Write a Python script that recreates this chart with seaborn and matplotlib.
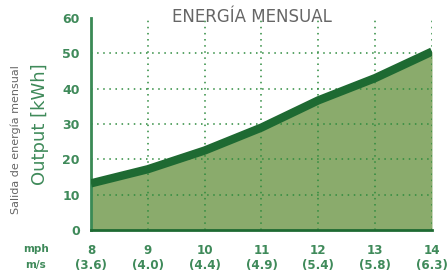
import numpy as np
import pandas as pd
import matplotlib
matplotlib.use("Agg")
import matplotlib.pyplot as plt
import seaborn as sns

# ─── Data ─────────────────────────────────────────────────────────────────────
wind_mph = [8, 9, 10, 11, 12, 13, 14]
wind_ms = ["(3.6)", "(4.0)", "(4.4)", "(4.9)", "(5.4)", "(5.8)", "(6.3)"]
output_kwh = [13.2, 17.2, 22.5, 29.0, 36.7, 43.0, 50.5]
y_ticks = [0, 10, 20, 30, 40, 50, 60]

df = pd.DataFrame({"mph": wind_mph, "kwh": output_kwh})

# ─── Styling ──────────────────────────────────────────────────────────────────
GREEN_TXT = "#3f8a5a"
LINE_GREEN = "#1e6a32"
FILL_GREEN = "#8aab6c"
GRID_GREEN = "#2e8b3e"

sns.set_theme(style="white")
plt.rcParams["font.family"] = ["DejaVu Sans"]

fig = plt.figure(figsize=(4.47, 2.76), dpi=100)
ax = fig.add_axes([0.2036, 0.1667, 0.7628, 0.768])

ax.fill_between(df["mph"], 0, df["kwh"], color=FILL_GREEN, lw=0, zorder=1)
sns.lineplot(data=df, x="mph", y="kwh", ax=ax, color=LINE_GREEN, lw=6,
             solid_capstyle="butt", zorder=3)

ax.set_xlim(8, 14)
ax.set_ylim(0, 60)
ax.set_xticks(wind_mph)
ax.set_xticklabels([f"{m}\n{s}" for m, s in zip(wind_mph, wind_ms)])
ax.set_yticks(y_ticks)
ax.tick_params(axis="both", length=0, labelcolor=GREEN_TXT, labelsize=9)
ax.tick_params(axis="x", pad=10, labelsize=8.6)
for lbl in ax.get_xticklabels() + ax.get_yticklabels():
    lbl.set_fontweight("bold")
ax.tick_params(axis="y", pad=8)

# dotted grid above the fill
for x in wind_mph[1:]:
    ax.axvline(x, color=GRID_GREEN, lw=1.1, ls=(0, (1, 3)), zorder=2)
for y in y_ticks[1:-1]:
    ax.axhline(y, color=GRID_GREEN, lw=1.1, ls=(0, (1, 3)), zorder=2)

for side in ["top", "right"]:
    ax.spines[side].set_visible(False)
ax.spines["left"].set_color("#3a8a55")
ax.spines["left"].set_linewidth(2)
ax.spines["bottom"].set_color(LINE_GREEN)
ax.spines["bottom"].set_linewidth(2)

ax.set_xlabel("")
ax.set_ylabel("Output [kWh]", color=GREEN_TXT, fontsize=13, labelpad=10)

fig.text(252 / 447, 1 - 17 / 276, "ENERGÍA MENSUAL", color="#666666",
         fontsize=12, ha="center", va="center")
fig.text(16 / 447, 1 - 140 / 276, "Salida de energía mensual", color="#666666",
         fontsize=8, rotation=90, ha="center", va="center")
fig.text(36 / 447, 1 - 249 / 276, "mph", color=GREEN_TXT, fontsize=7.5,
         fontweight="bold", ha="center", va="center")
fig.text(36 / 447, 1 - 265 / 276, "m/s", color=GREEN_TXT, fontsize=7.5,
         fontweight="bold", ha="center", va="center")

fig.savefig("out.png", dpi=100)
